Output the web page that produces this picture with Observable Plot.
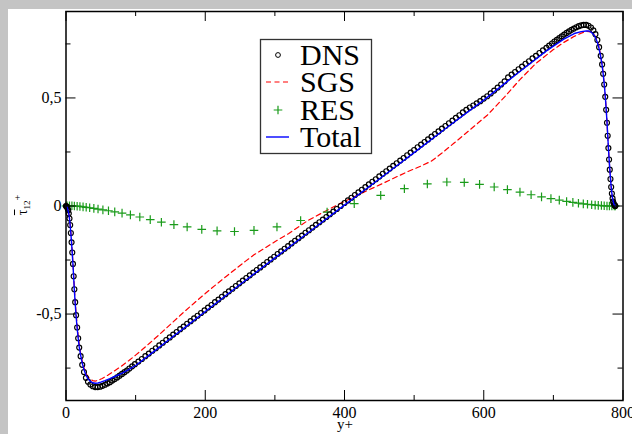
<!DOCTYPE html>
<html><head><meta charset="utf-8">
<script src="https://cdn.jsdelivr.net/npm/d3@7"></script>
<script src="https://cdn.jsdelivr.net/npm/@observablehq/plot@0.6"></script>
<style>
html,body{margin:0;padding:0;width:632px;height:434px;overflow:hidden;background:#c4c4c4;}
#panel{position:absolute;left:8px;top:9px;width:624px;height:425px;background:#fff;}
#chart{position:absolute;left:0;top:0;}
#overlay{position:absolute;left:0;top:0;}
.serif{font-family:"Liberation Serif","Times New Roman",Times,serif;}
.lbl{position:absolute;color:#000;white-space:nowrap;}
</style></head><body>
<div id="panel"></div>
<div id="chart"></div>
<svg id="overlay" class="serif" width="632" height="434"></svg>
<div id="ylab" class="lbl serif" style="left:3px;top:195px;width:30px;height:20px;line-height:20px;text-align:center;font-size:14px;transform:rotate(-90deg);transform-origin:center;"><span style="text-decoration:overline">τ</span><sub style="font-size:9px">12</sub><sup style="font-size:10px">+</sup></div>
<script>
// ---- data ----
const dnsX = [0,0.4,1.2,2.2,3.2,4,5,6,7,8,9,10,11,12,13.2,14.5,16,17.5,19,21,23.3,25.8,28.6,31.6,35,38.5,42,45.5,49,52.5,56,59.5,63,66.5,70,73.5,77,80.5,84,87.5,91,95,99,
104,109,114,119,124,129,134,139,144,149,154,159,164,169,174,179,184,189,194,199,204,209,214,219,224,229,234,239,244,249,254,259,264,269,274,279,284,289,294,299,304,309,314,319,324,329,334,339,344,349,354,359,364,369,374,379,384,389,394.5,
400,405,410,415,420,425,430,435,440,445,450,455,460,465,470,475,480,485,490,495,500,505,510,515,520,525,530,535,540,545,550,555,560,565,570,575,580,585,590,595,600,605,610,615,620,625,630,635,640,645,650,655,660,665,670,675,680,685,
690,694,698,701.5,705,708.5,712,715.5,719,722.5,726,729.5,733,736.5,740,743.5,747,750.5,754,757.4,760.4,763.2,765.7,768,770,771.5,773,774.5,775.8,777,778,779,780,781,782,783,784,785,785.8,786.8,787.8,788.6,789];
const dnsY = [0,-0.001,-0.004,-0.01,-0.02,-0.035,-0.058,-0.088,-0.125,-0.168,-0.215,-0.268,-0.325,-0.385,-0.445,-0.505,-0.562,-0.612,-0.655,-0.695,-0.735,-0.768,-0.795,-0.813,-0.826,-0.834,-0.838,-0.838,-0.836,-0.832,-0.827,-0.821,-0.815,-0.808,-0.801,-0.793,-0.785,-0.777,-0.769,-0.761,-0.752,-0.742,-0.732,
-0.720,-0.708,-0.695,-0.683,-0.670,-0.658,-0.645,-0.633,-0.620,-0.608,-0.595,-0.583,-0.570,-0.558,-0.545,-0.533,-0.520,-0.508,-0.495,-0.483,-0.470,-0.458,-0.445,-0.433,-0.420,-0.408,-0.395,-0.383,-0.370,-0.358,-0.345,-0.333,-0.321,-0.308,-0.296,-0.284,-0.272,-0.259,-0.247,-0.235,-0.222,-0.210,-0.198,-0.186,-0.173,-0.161,-0.149,-0.137,-0.124,-0.112,-0.100,-0.087,-0.075,-0.063,-0.051,-0.038,-0.026,-0.014,0,
0.014,0.026,0.038,0.051,0.063,0.075,0.087,0.100,0.112,0.124,0.137,0.149,0.161,0.173,0.186,0.198,0.210,0.222,0.235,0.247,0.259,0.272,0.284,0.296,0.308,0.321,0.333,0.345,0.358,0.370,0.383,0.395,0.408,0.420,0.433,0.445,0.456,0.465,0.475,0.485,0.497,0.508,0.521,0.534,0.548,0.562,0.577,0.595,0.608,0.620,0.633,0.645,0.658,0.670,0.683,0.695,0.708,0.720,
0.732,0.742,0.752,0.761,0.769,0.777,0.785,0.793,0.801,0.808,0.815,0.821,0.827,0.832,0.836,0.838,0.838,0.834,0.826,0.813,0.795,0.768,0.735,0.695,0.655,0.612,0.562,0.505,0.445,0.385,0.325,0.268,0.215,0.168,0.125,0.088,0.058,0.035,0.02,0.01,0.004,0.001,0];

const sgsX = [0,2,4,5,6,7,8,9,10,11,12,13.2,14.5,16,17.5,19,21,23.3,25.8,28.6,31.6,35,38.5,42,46,52,60,70,80,90,100,110,120,135,150,165,183,200,215,230,245,258,270,285,300,320,346,370,394,420,442,465,490,510,525,540,557,580,605,630,652,675,700,715,730,740,748,754,758,761,764,766,768,770,771.5,773,774.5,775.8,777,778,779,780,781,782,783,784,785,787,789];
const sgsY = [0,-0.006,-0.033,-0.055,-0.085,-0.122,-0.165,-0.212,-0.264,-0.32,-0.378,-0.438,-0.497,-0.552,-0.6,-0.64,-0.68,-0.717,-0.748,-0.773,-0.79,-0.802,-0.808,-0.81,-0.807,-0.798,-0.783,-0.762,-0.74,-0.716,-0.69,-0.663,-0.635,-0.592,-0.548,-0.503,-0.452,-0.405,-0.365,-0.326,-0.288,-0.255,-0.226,-0.196,-0.165,-0.127,-0.07,-0.028,0.012,0.052,0.085,0.12,0.158,0.185,0.208,0.245,0.29,0.352,0.42,0.505,0.585,0.66,0.724,0.757,0.785,0.8,0.808,0.806,0.795,0.78,0.755,0.73,0.695,0.655,0.612,0.565,0.51,0.45,0.39,0.33,0.272,0.22,0.172,0.128,0.09,0.058,0.035,0.008,0];

const resX = [0,1.5,5,8.5,12,16,20,24.5,29,34,40,46,53,61,70,80.5,92.5,106,121,137,155,174,195,217,242,270,303,337,375,
414,452,486,519,547,572,594,615,634,652,668,683,696.5,708.5,719,728,736,743,749,755,760,764.5,769,773,777,780.5,784,787.5,789];
const resY = [0,0.001,0.001,0.001,0,-0.001,-0.002,-0.004,-0.006,-0.008,-0.011,-0.014,-0.018,-0.022,-0.027,-0.033,-0.041,-0.051,-0.063,-0.075,-0.086,-0.097,-0.108,-0.115,-0.118,-0.113,-0.097,-0.067,-0.028,
0.011,0.049,0.080,0.102,0.111,0.109,0.100,0.088,0.076,0.064,0.052,0.042,0.034,0.027,0.021,0.017,0.013,0.010,0.008,0.006,0.004,0.003,0.002,0.001,0,0,0,0,0];

const totX = [0,2,4,5,6,7,8,9,10,11,12,13.2,14.5,16,17.5,19,21,23.3,25.8,28.6,31.6,35,38.5,42,46,50,56,63,70,80,90,100,125,150,175,200,250,300,350,397,
450,500,550,600,650,690,700,715,730,740,747,750.5,754,757.4,760.4,763.2,765.7,768,770,771.5,773,774.5,775.8,777,778,779,780,781,782,783,784,785,787,789];
const totY = [0,-0.008,-0.035,-0.058,-0.09,-0.128,-0.172,-0.22,-0.272,-0.33,-0.39,-0.45,-0.51,-0.565,-0.612,-0.652,-0.69,-0.727,-0.757,-0.782,-0.8,-0.812,-0.818,-0.82,-0.819,-0.815,-0.808,-0.799,-0.789,-0.774,-0.757,-0.738,-0.676,-0.613,-0.551,-0.488,-0.363,-0.240,-0.118,-0.003,
0.125,0.247,0.370,0.49,0.618,0.718,0.74,0.772,0.798,0.807,0.81,0.81,0.805,0.795,0.78,0.757,0.727,0.69,0.652,0.612,0.565,0.51,0.45,0.39,0.33,0.272,0.22,0.172,0.128,0.09,0.058,0.035,0.008,0];

const xMajor = [0,200,400,600,800];
const xMinor = [100,300,500,700];
const yMajor = [-0.5,0,0.5];
const yMinor = [-0.75,-0.25,0.25,0.75];
const seriesNames = ["DNS","SGS","RES","Total"];
const xLabel = "y+";

// ---- chart ----
const SERIF = "'Liberation Serif','Times New Roman',Times,serif";
const W = 632, H = 434, mL = 65.5, mR = 9.5, mT = 11, mB = 34;
const pw = W - mL - mR, ph = H - mT - mB;
const GREEN = "#1a9b1a", RED = "#ff0000", BLUE = "#0000ff";
const toRows = (xs, ys) => xs.map((x, i) => ({x, y: ys[i]}));
const dns = toRows(dnsX, dnsY), sgs = toRows(sgsX, sgsY), res = toRows(resX, resY), tot = toRows(totX, totY);
const fmt = d => String(d).replace(".", ",");
const plusSym = {draw(ctx, size) { const r = Math.sqrt(size / Math.PI); ctx.moveTo(-r, 0); ctx.lineTo(r, 0); ctx.moveTo(0, -r); ctx.lineTo(0, r); }};

const chart = Plot.plot({
  width: W, height: H, marginLeft: mL, marginRight: mR, marginTop: mT, marginBottom: mB,
  x: {domain: [0, 800]},
  y: {domain: [-0.9, 0.9]},
  style: {background: "transparent", fontFamily: SERIF, fontSize: "16px", color: "black", overflow: "visible"},
  marks: [
    Plot.line(sgs, {x: "x", y: "y", stroke: RED, strokeWidth: 1.2, strokeDasharray: "5,3.5"}),
    Plot.dot(res, {x: "x", y: "y", symbol: plusSym, r: 4.3, fill: "none", stroke: GREEN, strokeWidth: 1.2}),
    Plot.dot(dns, {x: "x", y: "y", r: 2.5, fill: "none", stroke: "black", strokeWidth: 1.15}),
    Plot.line(tot, {x: "x", y: "y", stroke: BLUE, strokeWidth: 1.4}),
    // inward ticks on all four sides
    Plot.tickY(yMajor, {y: d => d, insetRight: pw - 10, stroke: "black", strokeWidth: 1}),
    Plot.tickY(yMajor, {y: d => d, insetLeft: pw - 10, stroke: "black", strokeWidth: 1}),
    Plot.tickY(yMinor, {y: d => d, insetRight: pw - 5, stroke: "black", strokeWidth: 1}),
    Plot.tickY(yMinor, {y: d => d, insetLeft: pw - 5, stroke: "black", strokeWidth: 1}),
    Plot.tickX(xMajor, {x: d => d, insetTop: ph - 10, stroke: "black", strokeWidth: 1}),
    Plot.tickX(xMajor, {x: d => d, insetBottom: ph - 10, stroke: "black", strokeWidth: 1}),
    Plot.tickX(xMinor, {x: d => d, insetTop: ph - 5, stroke: "black", strokeWidth: 1}),
    Plot.tickX(xMinor, {x: d => d, insetBottom: ph - 5, stroke: "black", strokeWidth: 1}),
    Plot.frame({stroke: "black", strokeWidth: 1.5}),
    Plot.axisX(xMajor, {tickSize: 0, tickPadding: 6, tickFormat: fmt, label: null, fontFamily: SERIF}),
    Plot.axisY(yMajor, {tickSize: 0, tickPadding: 4.5, tickFormat: fmt, label: null, fontFamily: SERIF})
  ]
});
document.getElementById("chart").appendChild(chart);

// ---- legend & x label (overlay) ----
const ov = d3.select("#overlay");
ov.append("rect").attr("x", 260.5).attr("y", 39.5).attr("width", 111).attr("height", 114)
  .attr("fill", "white").attr("stroke", "#333").attr("stroke-width", 1.3);
const rowY = [55, 82, 110, 137];
const baseY = [65, 92.3, 120, 146.7];
ov.append("circle").attr("cx", 278).attr("cy", rowY[0]).attr("r", 2.4).attr("fill", "none").attr("stroke", "black");
ov.append("line").attr("x1", 266).attr("x2", 290).attr("y1", rowY[1]).attr("y2", rowY[1])
  .attr("stroke", RED).attr("stroke-width", 1.2).attr("stroke-dasharray", "5,3.5");
ov.append("path").attr("d", `M273.7,${rowY[2]}H282.3M278,${rowY[2]-4.3}V${rowY[2]+4.3}`).attr("stroke", GREEN).attr("stroke-width", 1.2);
ov.append("line").attr("x1", 266).attr("x2", 289).attr("y1", rowY[3]).attr("y2", rowY[3]).attr("stroke", BLUE).attr("stroke-width", 1.4);
seriesNames.forEach((s, i) => {
  ov.append("text").attr("x", 300).attr("y", baseY[i]).style("font-family", SERIF)
    .attr("font-size", 30).attr("fill", "black").text(s);
});
ov.append("text").attr("x", 345).attr("y", 429).attr("text-anchor", "middle")
  .style("font-family", SERIF).attr("font-size", 15).text(xLabel);
</script>
</body></html>
